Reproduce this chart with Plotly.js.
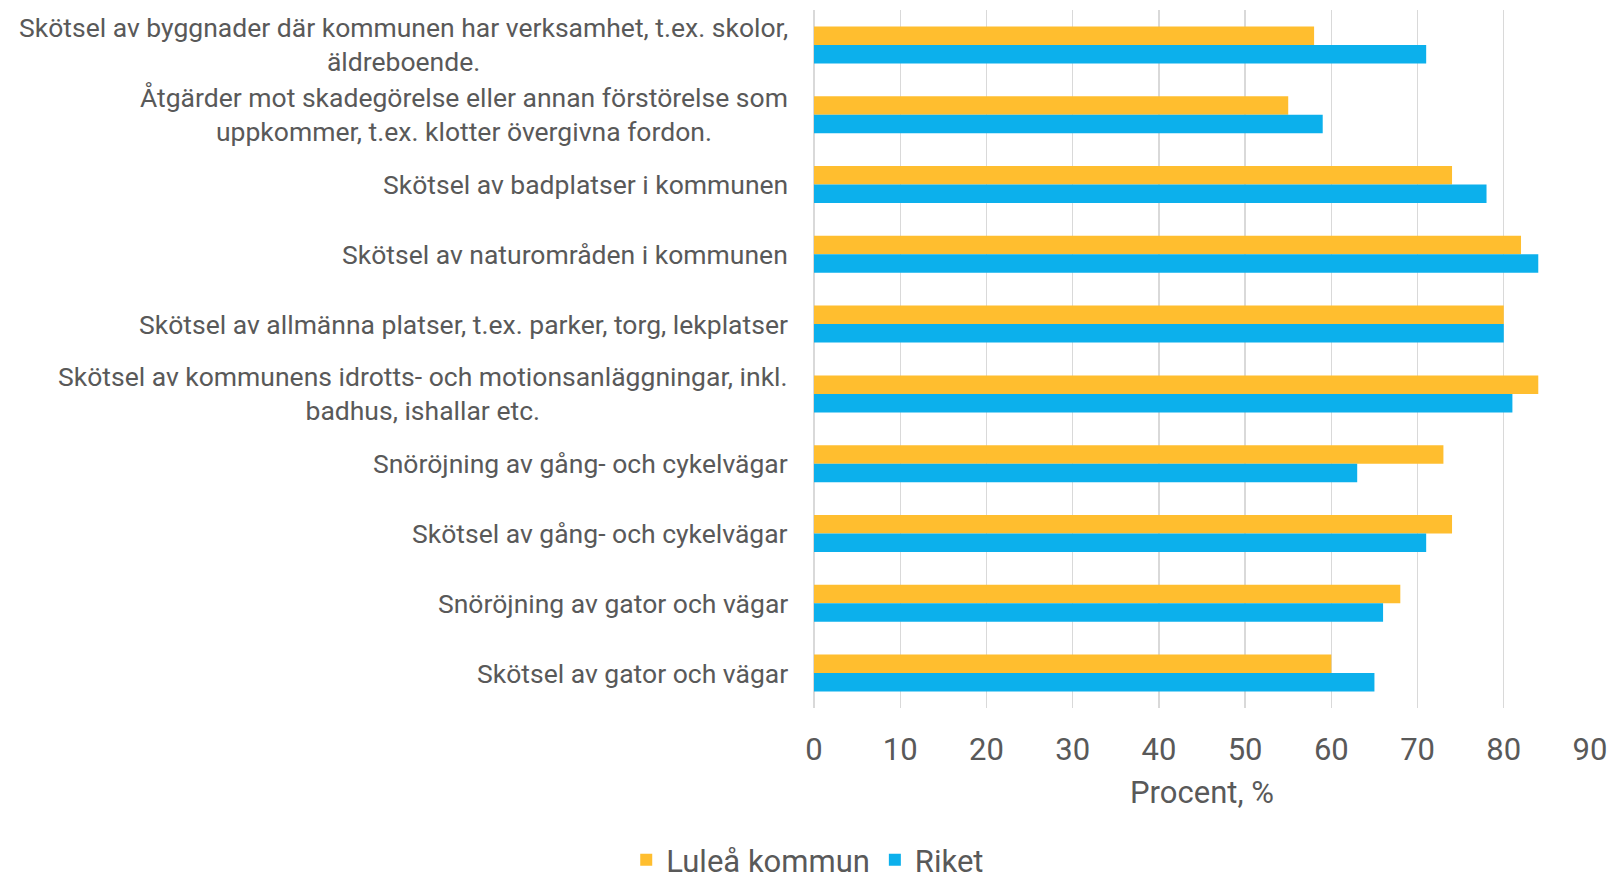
<!DOCTYPE html>
<html>
<head>
<meta charset="utf-8">
<script src="https://cdn.plot.ly/plotly-3.0.1.min.js"></script>
<style>
html,body{margin:0;padding:0;background:#fff;}
#chart{width:1614px;height:887px;}
</style>
</head>
<body>
<div id="chart"></div>
<script>
// Categories, top to bottom
const categories = [
  "Skötsel av byggnader där kommunen har verksamhet, t.ex. skolor,<br>äldreboende.",
  "Åtgärder mot skadegörelse eller annan förstörelse som<br>uppkommer, t.ex. klotter övergivna fordon.",
  "Skötsel av badplatser i kommunen",
  "Skötsel av naturområden i kommunen",
  "Skötsel av allmänna platser, t.ex. parker, torg, lekplatser",
  "Skötsel av kommunens idrotts- och motionsanläggningar, inkl.<br>badhus, ishallar etc.",
  "Snöröjning av gång- och cykelvägar",
  "Skötsel av gång- och cykelvägar",
  "Snöröjning av gator och vägar",
  "Skötsel av gator och vägar"
];
const seriesNames = ["Luleå kommun", "Riket"];
const lulea = [58, 55, 74, 82, 80, 84, 73, 74, 68, 60];
const riket = [71, 59, 78, 84, 80, 81, 63, 71, 66, 65];
const xTicks = [0, 10, 20, 30, 40, 50, 60, 70, 80, 90];
const xTitle = "Procent, %";

const txt = "#595959";
const fontFam = "Roboto, 'Open Sans', sans-serif";

const traces = [
  {type: "bar", orientation: "h", name: seriesNames[0], x: lulea, y: categories,
   marker: {color: "#FFBE2F"}, hoverinfo: "x+name"},
  {type: "bar", orientation: "h", name: seriesNames[1], x: riket, y: categories,
   marker: {color: "#0CB0EC"}, hoverinfo: "x+name"}
];

const annotations = categories.map(c => ({
  xref: "paper", x: 0, xanchor: "right", xshift: -24,
  yref: "y", y: c, yanchor: "middle",
  text: c, showarrow: false, align: "center",
  font: {family: fontFam, size: 26.5, color: txt}
}));

const layout = {
  width: 1614, height: 887,
  paper_bgcolor: "#fff", plot_bgcolor: "#fff",
  margin: {l: 814, r: 24, t: 10, b: 179, autoexpand: false},
  barmode: "group", bargap: 0.47, bargroupgap: 0,
  font: {family: fontFam, color: txt},
  showlegend: true,
  legend: {orientation: "h", xref: "container", x: 0.388, xanchor: "left",
           yref: "container", y: 0, yanchor: "bottom",
           font: {family: fontFam, size: 31, color: txt}, itemwidth: 30},
  xaxis: {
    range: [0, 90], tickvals: xTicks, ticktext: xTicks.map(String),
    automargin: false,
    showgrid: true, gridcolor: "#D9D9D9", gridwidth: 1.3,
    zeroline: true, zerolinecolor: "#D9D9D9", zerolinewidth: 1.3,
    showline: false, ticks: "",
    tickfont: {family: fontFam, size: 31, color: txt},
    ticklabelstandoff: 20,
    title: {text: xTitle, font: {family: fontFam, size: 31, color: txt}, standoff: 14}
  },
  yaxis: {
    type: "category", range: [9.5, -0.5], automargin: false,
    showticklabels: false, showgrid: false, zeroline: false, showline: false, ticks: ""
  },
  annotations: annotations
};

Plotly.newPlot("chart", traces, layout, {displayModeBar: false, staticPlot: true});
</script>
</body>
</html>
